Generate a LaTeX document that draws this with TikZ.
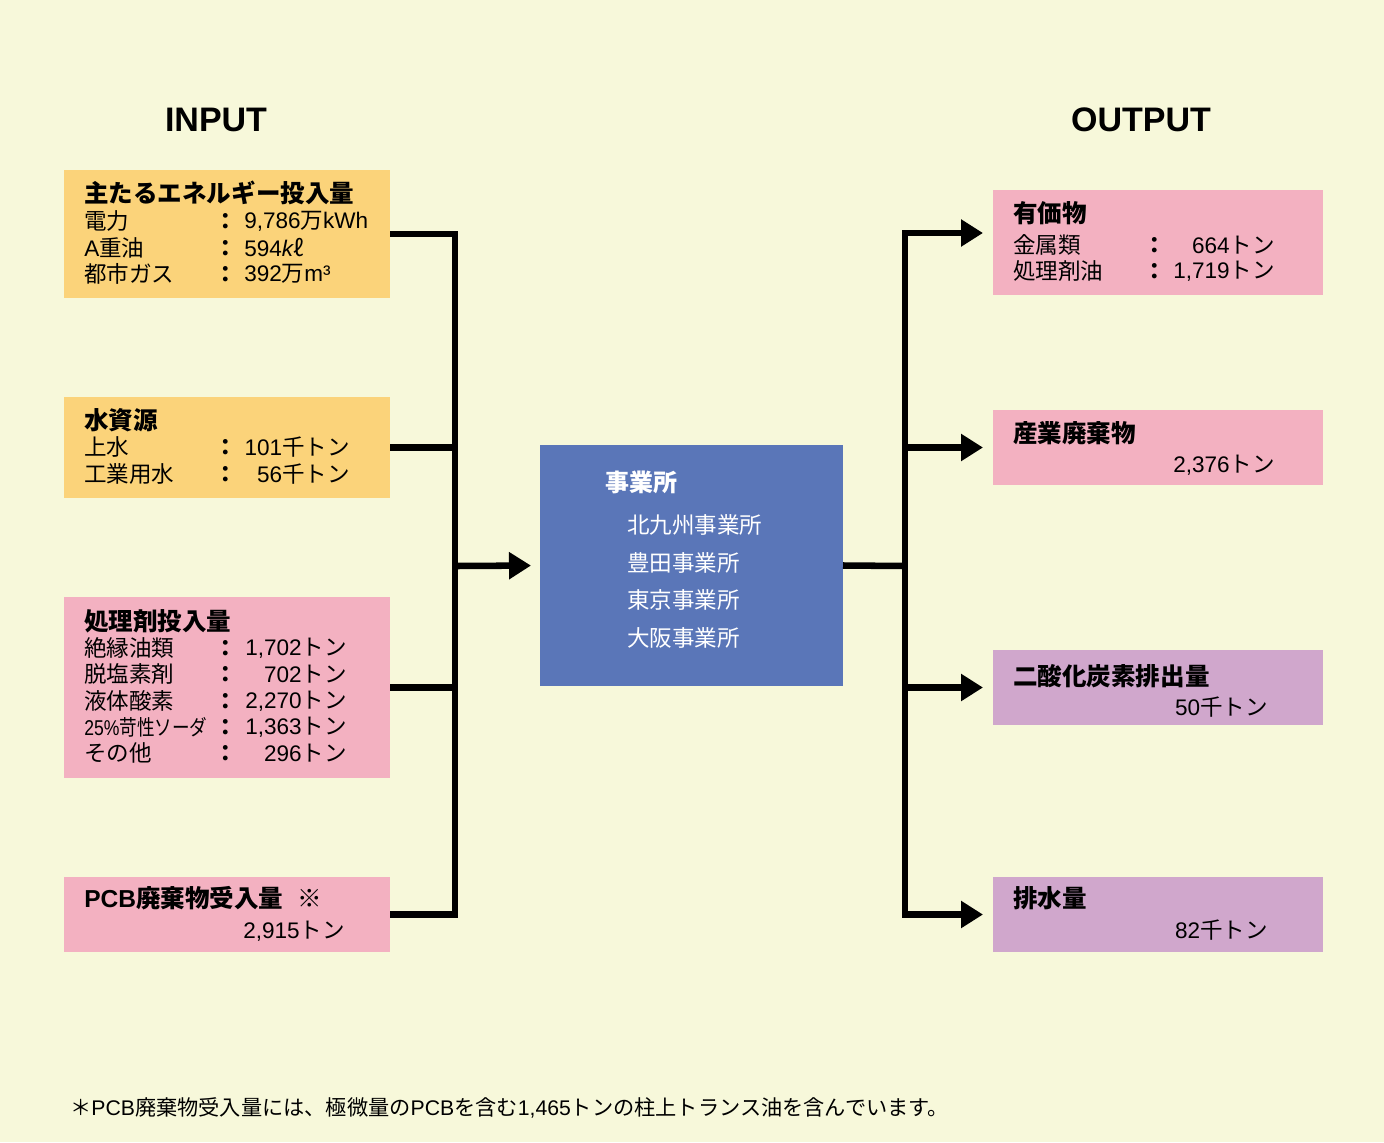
\documentclass[tikz,border=0pt]{standalone}
\usepackage{fontspec}
\setmainfont{Noto Sans CJK JP}
\newfontfamily\hv{Liberation Sans}
\usetikzlibrary{arrows.meta,calc,fit}

\definecolor{bgcream}{HTML}{F7F8DA}
\definecolor{boxyel}{HTML}{FBD37A}
\definecolor{boxpink}{HTML}{F3B1C1}
\definecolor{boxpurple}{HTML}{D0A7CC}
\definecolor{hubblue}{HTML}{5A76B8}

% type sizes
\newcommand\panelhead{\fontsize{18.4}{20}\selectfont\bfseries}
\newcommand\panelbody{\fontsize{16.9}{19}\selectfont}
\newcommand\sidetitle{\fontsize{25.5}{28}\selectfont\hv\bfseries}

\tikzset{
  panel/.style={inner sep=0pt, outer sep=0pt, draw=none},
  lbl/.style={inner sep=0pt, anchor=west, font=\panelbody},
  hdr/.style={inner sep=0pt, anchor=west, font=\panelhead},
  val/.style={inner sep=0pt, anchor=east, font=\panelbody},
  lval/.style={inner sep=0pt, anchor=west, font=\panelbody},
  sep/.style={inner sep=0pt, anchor=center, font=\panelbody\bfseries},
  wire/.style={line width=4.9pt, line join=miter, black},
  feed/.style={wire, -{Triangle[length=16.5pt,width=19.5pt]}},
}

\begin{document}
\begin{tikzpicture}[x=0.75pt,y=-0.75pt]
  % page
  \fill[bgcream] (0,0) rectangle (1384,1142);
  \useasboundingbox (0,0) rectangle (1384,1142);

  % column titles
  \node[inner sep=0pt, font=\sidetitle] (tin) at (216,120) {INPUT};
  \node[inner sep=0pt, font=\sidetitle] (tout) at (1141,120) {OUTPUT};

  % input panels
  \node[panel, fill=boxyel, fit={(64,170)(390,298)}] (en) {};
  \node[panel, fill=boxyel, fit={(64,397)(390,498)}] (wa) {};
  \node[panel, fill=boxpink, fit={(64,597)(390,778)}] (tr) {};
  \node[panel, fill=boxpink, fit={(64,877)(390,952)}] (pcb) {};

  % central panel
  \node[panel, fill=hubblue, fit={(540,445)(843,686)}] (hub) {};

  % output panels
  \node[panel, fill=boxpink, fit={(993,190)(1323,295)}] (va) {};
  \node[panel, fill=boxpink, fit={(993,410)(1323,485)}] (iw) {};
  \node[panel, fill=boxpurple, fit={(993,650)(1323,725)}] (co) {};
  \node[panel, fill=boxpurple, fit={(993,877)(1323,952)}] (dr) {};

  % energy
  \node[hdr] (en-h) at (84,193) {主たるエネルギー投入量};
  \node[lbl] (en-1) at (84,221) {電力};
  \node[lbl] (en-2) at (84,248) {{\hv A}重油};
  \node[lbl] (en-3) at (84,274) {都市ガス};
  \node[sep] (en-c1) at (226,221) {：};
  \node[sep] (en-c2) at (226,248) {：};
  \node[sep] (en-c3) at (226,274) {：};
  \node[lval] (en-v1) at (244,221) {{\hv 9,786}万{\hv kWh}};
  \node[lval] (en-v2) at (244,248) {{\hv 594}{\hv\itshape k}ℓ};
  \node[lval] (en-v3) at (244,274) {{\hv 392}万{\hv m³}};

  % water
  \node[hdr] (wa-h) at (84,420) {水資源};
  \node[lbl] (wa-1) at (84,447) {上水};
  \node[lbl] (wa-2) at (84,474) {工業用水};
  \node[sep] (wa-c1) at (226,447) {：};
  \node[sep] (wa-c2) at (226,474) {：};
  \node[val] (wa-v1) at (350,447) {{\hv 101}千トン};
  \node[val] (wa-v2) at (350,474) {{\hv 56}千トン};

  % treatment agents
  \node[hdr] (tr-h) at (84,621) {処理剤投入量};
  \node[lbl] (tr-1) at (84,648) {絶縁油類};
  \node[lbl] (tr-2) at (84,674) {脱塩素剤};
  \node[lbl] (tr-3) at (84,701) {液体酸素};
  \node[lbl] (tr-4) at (84,727) {\scalebox{0.78}[0.95]{{\hv 25\%}苛性ソーダ}};
  \node[lbl] (tr-5) at (84,753) {その他};
  \foreach \r/\yy in {1/648,2/674,3/701,4/727,5/753}
    \node[sep] (tr-c\r) at (226,\yy) {：};
  \node[val] (tr-v1) at (347,648) {{\hv 1,702}トン};
  \node[val] (tr-v2) at (347,674) {{\hv 702}トン};
  \node[val] (tr-v3) at (347,701) {{\hv 2,270}トン};
  \node[val] (tr-v4) at (347,727) {{\hv 1,363}トン};
  \node[val] (tr-v5) at (347,753) {{\hv 296}トン};

  % PCB intake
  \node[hdr] (pcb-h) at (84,898) {{\hv PCB}廃棄物受入量\hspace{0.6em}\mdseries ※};
  \node[val] (pcb-v) at (345,931) {{\hv 2,915}トン};

  % sites
  \node[inner sep=0pt, anchor=west, text=white, font=\fontsize{18}{20}\selectfont\bfseries] (hub-h) at (605,482) {事業所};
  \node[inner sep=0pt, anchor=west, text=white, font=\panelbody] (hub-1) at (627,525) {北九州事業所};
  \node[inner sep=0pt, anchor=west, text=white, font=\panelbody] (hub-2) at (627,563) {豊田事業所};
  \node[inner sep=0pt, anchor=west, text=white, font=\panelbody] (hub-3) at (627,600) {東京事業所};
  \node[inner sep=0pt, anchor=west, text=white, font=\panelbody] (hub-4) at (627,638) {大阪事業所};

  % valuables
  \node[hdr] (va-h) at (1013,213) {有価物};
  \node[lbl] (va-1) at (1013,245) {金属類};
  \node[lbl] (va-2) at (1013,271) {処理剤油};
  \node[sep] (va-c1) at (1155,245) {：};
  \node[sep] (va-c2) at (1155,271) {：};
  \node[val] (va-v1) at (1275,245) {{\hv 664}トン};
  \node[val] (va-v2) at (1275,271) {{\hv 1,719}トン};

  % industrial waste
  \node[hdr] (iw-h) at (1013,433) {産業廃棄物};
  \node[val] (iw-v) at (1275,465) {{\hv 2,376}トン};

  % CO2
  \node[hdr] (co-h) at (1013,676) {二酸化炭素排出量};
  \node[val] (co-v) at (1268,707) {{\hv 50}千トン};

  % drainage
  \node[hdr] (dr-h) at (1013,898) {排水量};
  \node[val] (dr-v) at (1268,930) {{\hv 82}千トン};

  % footnote
  \node[inner sep=0pt, anchor=west, font=\fontsize{15.9}{18}\selectfont] (note) at (70,1108)
    {＊{\hv PCB}廃棄物受入量には、極微量の{\hv PCB}を含む{\hv 1,465}トンの柱上トランス油を含んでいます。};

  % collecting bus on the input side
  \coordinate (busL) at (455,566);
  \draw[wire] (en.east) -| ($(busL |- pcb.east)$) -- (pcb.east);
  \draw[wire] (wa.east) -- (wa.east -| busL);
  \draw[wire] (tr.east) -- (tr.east -| busL);
  \draw[feed, shorten >=6.75pt] (busL) -- (hub.west);

  % distributing bus on the output side
  \coordinate (busR) at (905,566);
  \coordinate (vaIn) at (993,233);
  \draw[wire] (hub.east) -- (busR);
  \draw[feed, shorten >=7.5pt] (busR |- dr.west) |- (vaIn);
  \draw[feed, shorten >=7.5pt] (busR |- vaIn) |- (dr.west);
  \draw[feed, shorten >=7.5pt] (busR |- iw.west) -- (iw.west);
  \draw[feed, shorten >=7.5pt] (busR |- co.west) -- (co.west);
\end{tikzpicture}
\end{document}
